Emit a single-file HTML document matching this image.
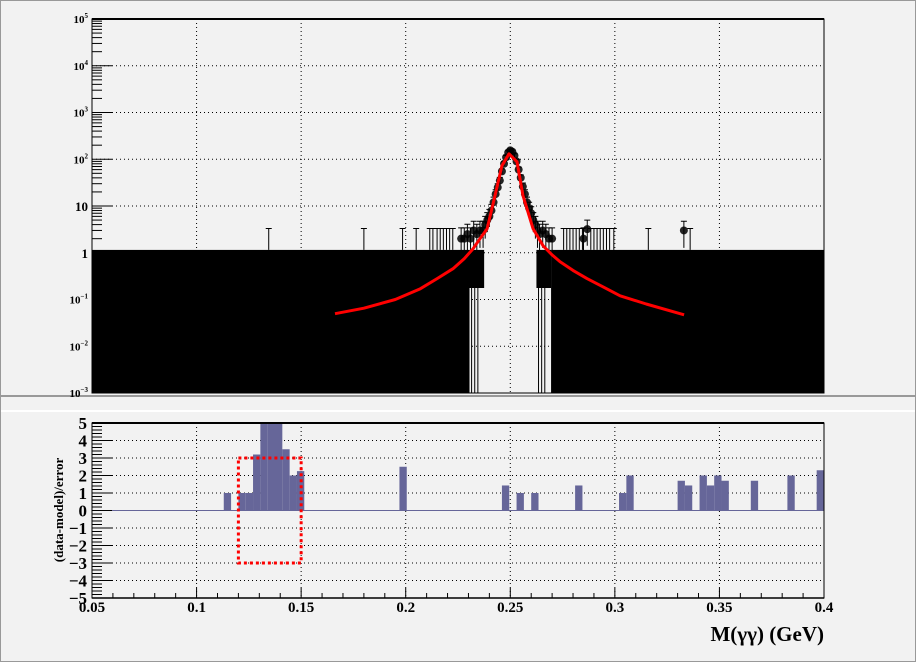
<!DOCTYPE html>
<html><head><meta charset="utf-8"><style>
html,body{margin:0;padding:0;background:#f2f2f2}
svg{display:block}
text{font-family:"Liberation Serif",serif;font-weight:bold;fill:#000}
</style></head><body>
<svg id="c" width="916" height="662" viewBox="0 0 916 662" xmlns="http://www.w3.org/2000/svg">
<rect x="0" y="0" width="916" height="662" fill="#f2f2f2"/>
<g id="topPanel"></g>
<g id="botPanel"></g>
</svg>
<script>
// ---- data ----
const yTickExps = [5,4,3,2,1,0,-1,-2,-3];
const xTicks = [0.05,0.1,0.15,0.2,0.25,0.3,0.35,0.4];
const xTickLabels = ["0.05","0.1","0.15","0.2","0.25","0.3","0.35","0.4"];
const modelX = [0.1662,0.18,0.195,0.207,0.215,0.2226,0.228,0.2322,0.2355,0.2389,0.2427,0.246,0.2494,0.2532,0.2561,0.2609,0.2657,0.27,0.2738,0.28,0.2867,0.295,0.3025,0.315,0.3331];
const modelY = [0.0496,0.065,0.1,0.17,0.28,0.455,0.75,1.22,2,3.26,16.6,72.6,131,88,16.6,3.26,1.41,0.9,0.64,0.42,0.28,0.18,0.12,0.08,0.047];
const dataX = [0.2265,0.228,0.2295,0.231,0.2325,0.234,0.2355,0.237,0.238,0.239,0.240,0.241,0.242,0.243,0.244,0.245,0.246,0.247,0.248,0.249,0.250,0.251,0.252,0.253,0.254,0.255,0.256,0.257,0.258,0.259,0.260,0.261,0.262,0.263,0.264,0.2655,0.267,0.2685,0.270,0.285,0.2868,0.333];
const dataY = [2,2,2.5,2,3,2.5,3,3,4,5,6,8,12,18,25,35,55,80,110,140,155,145,120,90,60,40,26,18,12,9,7,5,4,3,2.5,3,2.5,2,2,2,3.2,3];
const oneX = [0.1345,0.180,0.1985,0.205,0.2115,0.213,0.215,0.2165,0.218,0.2195,0.221,0.2225,0.2755,0.277,0.2785,0.280,0.2815,0.283,0.2845,0.2885,0.290,0.2915,0.293,0.2945,0.296,0.2975,0.2995,0.316,0.336];
const resBins = [18,20,21,22,23,24,25,26,27,28,42,56,58,60,66,72,73,80,81,83,84,85,86,90,95,99];
const resVals = [1,1,1,3.2,5.5,5.5,5.5,3.5,2,2.25,2.5,1.43,1,1,1.43,1,2,1.7,1.43,2,1.43,2,1.7,1.7,2,2.3];
const resTicks = [5,4,3,2,1,0,-1,-2,-3,-4,-5];

// ---- axes ----
const NS="http://www.w3.org/2000/svg";
const X0=92,X1=824;
const sx=v=>X0+(v-0.05)/(0.35)*(X1-X0);
const TY0=19,TY1=393;
const sy=v=>TY0+(5-Math.log10(v))/8*(TY1-TY0);
const BY0=423,BY1=598;
const ry=v=>BY0+(5-v)/10*(BY1-BY0);
function mk(p,tag,a){const el=document.createElementNS(NS,tag);for(const k in a)el.setAttribute(k,a[k]);p.appendChild(el);return el;}
const topG=document.getElementById('topPanel'),botG=document.getElementById('botPanel');

let e;
e=mk(topG,'line',{x1:0,y1:396,x2:916,y2:396,stroke:'#999',"stroke-width":2});


e=mk(botG,'line',{x1:0,y1:411,x2:916,y2:411,stroke:'#fff',"stroke-width":2});


e=mk(botG,'rect',{x:0.5,y:0.5,width:915,height:661,fill:'none',stroke:'#999'});



// ---- top grid ----
xTicks.slice(1,-1).forEach(t=>{
  e=mk(topG,'line',{x1:sx(t),y1:TY0,x2:sx(t),y2:TY1,stroke:'#000','stroke-dasharray':'1,3'});
  
  
});
yTickExps.slice(1,-1).forEach(p=>{
  const y=sy(Math.pow(10,p));
  e=mk(topG,'line',{x1:X0,y1:y,x2:X1,y2:y,stroke:'#000','stroke-dasharray':'1,3'});
  
  
});
const bandTop=sy(1.15);
[[X0,sx(0.2305)],[sx(0.2695),X1]].forEach(r=>{
  e=mk(topG,'rect',{x:r[0],y:bandTop,width:r[1]-r[0],height:TY1-bandTop,fill:'#000'});
  
  
});
[[0.2305,0.2375,288],[0.2625,0.2695,288]].forEach(r=>{
  e=mk(topG,'rect',{x:sx(r[0]),y:bandTop,width:sx(r[1])-sx(r[0]),height:r[2]-bandTop,fill:'#000'});
  
  
});
[0.2315,0.233,0.2345,0.2635,0.265,0.2665,0.2735].forEach(v=>{
  e=mk(topG,'line',{x1:sx(v),y1:288,x2:sx(v),y2:TY1,stroke:'#000','stroke-width':1});
  
  
});
oneX.forEach(v=>{
  const x=sx(v),yt=sy(3.3);
  e=mk(topG,'path',{d:`M${x},${yt}V${bandTop}M${x-3},${yt}H${x+3}`,stroke:'#000','stroke-width':1,fill:'none'});
  
  
});
dataX.forEach((v,i)=>{
  const x=sx(v),y=sy(dataY[i]);
  const err=Math.sqrt(dataY[i]);
  const yu=sy(dataY[i]+err),yl=sy(Math.max(dataY[i]-err,0.5));
  e=mk(topG,'path',{d:`M${x},${yu}V${yl}M${x-3},${yu}H${x+3}`,stroke:'#000','stroke-width':1,fill:'none'});
  
  
  e=mk(topG,'circle',{cx:x,cy:y,r:4,fill:'#000','fill-opacity':0.85});
  
  
});
let d='';
modelX.forEach((v,i)=>{d+=(i?'L':'M')+sx(v).toFixed(1)+','+sy(modelY[i]).toFixed(1);});
e=mk(topG,'path',{d:d,stroke:'#ff0000','stroke-width':3,fill:'none','stroke-linejoin':'round'});


e=mk(topG,'rect',{x:X0,y:TY0,width:X1-X0,height:TY1-TY0,fill:'none',stroke:'#000','stroke-width':1});


mk(topG,'line',{x1:X0,y1:TY0,x2:X1,y2:TY0,stroke:'#000','stroke-width':2});
yTickExps.forEach(p=>{
  const y=sy(Math.pow(10,p));
  e=mk(topG,'line',{x1:X0,y1:y,x2:X0+20,y2:y,stroke:'#000'});
  
  
  if(p>-3){for(let m=2;m<=9;m++){const ym=sy(m*Math.pow(10,p-1));mk(topG,'line',{x1:X0,y1:ym,x2:X0+10,y2:ym,stroke:'#000'});}}
  let t;
  if(p===0){t=mk(topG,'text',{x:88,y:y+5,'font-size':13,'text-anchor':'end'});t.textContent='1';}
  else if(p===1){t=mk(topG,'text',{x:88,y:y+5,'font-size':13,'text-anchor':'end'});t.textContent='10';}
  else{t=mk(topG,'text',{x:88,y:y+4,'font-size':11,'text-anchor':'end'});
    const a=document.createElementNS(NS,'tspan');a.textContent='10';t.appendChild(a);
    const b=document.createElementNS(NS,'tspan');b.setAttribute('dy','-5');b.setAttribute('font-size','7');b.textContent=(p<0?'\u2212'+(-p):''+p);t.appendChild(b);}
  
  
});

// ---- bottom panel ----
xTicks.slice(1,-1).forEach(t=>{
  e=mk(botG,'line',{x1:sx(t),y1:BY0,x2:sx(t),y2:BY1,stroke:'#000','stroke-dasharray':'1,3'});
  
  
});
resTicks.slice(1,-1).forEach(v=>{
  if(v===0)return;
  e=mk(botG,'line',{x1:X0,y1:ry(v),x2:X1,y2:ry(v),stroke:'#000','stroke-dasharray':'1,3'});
  
  
});
e=mk(botG,'line',{x1:X0,y1:ry(0),x2:X1,y2:ry(0),stroke:'#666699','stroke-width':1});


const bw=(X1-X0)/100;
resBins.forEach((b,i)=>{
  const v=Math.min(resVals[i],5);
  const y=ry(v),y0=ry(0);
  e=mk(botG,'rect',{x:X0+b*bw,y:Math.min(y,y0),width:bw,height:Math.abs(y0-y),fill:'#666699'});
  
  
});
e=mk(botG,'rect',{x:sx(0.12),y:ry(3),width:sx(0.15)-sx(0.12),height:ry(-3)-ry(3),fill:'none',stroke:'#ff0000','stroke-width':3,'stroke-dasharray':'3,3'});


e=mk(botG,'rect',{x:X0,y:BY0,width:X1-X0,height:BY1-BY0,fill:'none',stroke:'#000','stroke-width':1});


mk(botG,'line',{x1:X0,y1:BY0,x2:X1,y2:BY0,stroke:'#000','stroke-width':2});
mk(botG,'line',{x1:X0,y1:BY1,x2:X1,y2:BY1,stroke:'#000','stroke-width':1.5});
for(let k=-25;k<=25;k++){
  const v=k/5;
  const major=(k%5===0);
  mk(botG,'line',{x1:X0,y1:ry(v),x2:X0+(major?20:10),y2:ry(v),stroke:'#000'});
}
resTicks.forEach(v=>{
  const t=mk(botG,'text',{x:87,y:ry(v)+6,'font-size':17,'text-anchor':'end'});
  t.textContent=v<0?'\u2212'+(-v):''+v;
  
  
});
for(let k=5;k<=40;k++){
  const v=k/100;
  const major=(k%5===0);
  mk(botG,'line',{x1:sx(v),y1:BY1,x2:sx(v),y2:BY1-(major?10:5),stroke:'#000'});
}
xTicks.forEach((v,i)=>{
  const t=mk(botG,'text',{x:sx(v),y:612,'font-size':15,'text-anchor':'middle'});
  t.textContent=xTickLabels[i];
  
  
});
e=mk(botG,'text',{x:824,y:641,'font-size':21,'text-anchor':'end'});
e.textContent='M(\u03b3\u03b3) (GeV)';


e=mk(botG,'text',{x:0,y:0,'font-size':13,'text-anchor':'middle',transform:'translate(63,510) rotate(-90)'});
e.textContent='(data-model)/error';


</script>
</body></html>
